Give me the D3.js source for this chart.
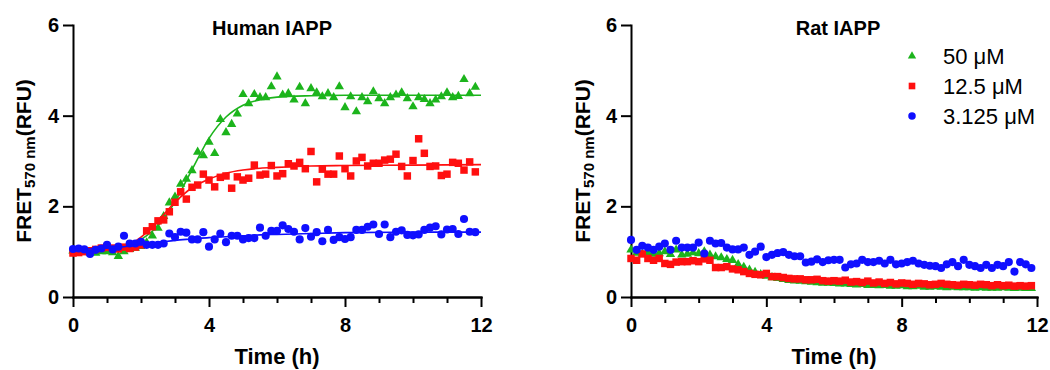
<!DOCTYPE html>
<html>
<head>
<meta charset="utf-8">
<script src="https://cdn.jsdelivr.net/npm/d3@7"></script>
<style>
  body { margin: 0; background: #fff; }
  svg { font-family: "Liberation Sans", Arial, sans-serif; }
  .axis path, .axis line { stroke: #000; stroke-width: 2; }
  .axis text { font-size: 20px; font-weight: bold; fill: #000; }
</style>
</head>
<body>
<div id="chart"></div>
<script>
// sampling times (minutes)
const timeMin = [0,10,20,30,40,50,60,70,80,90,100,110,120,130,140,150,160,170,180,190,200,210,220,230,
  240,250,260,270,280,290,300,310,320,330,340,350,360,370,380,390,400,410,420,430,440,450,460,470,
  480,490,500,510,520,530,540,550,560,570,580,590,600,610,620,630,640,650,660,670,680,690,700,710];

const concLabels = ["50 \u03BCM", "12.5 \u03BCM", "3.125 \u03BCM"];

// Human IAPP
const human50 = [1.02,1.00,1.00,0.98,0.97,1.00,1.00,0.98,0.90,1.00,
  1.05,1.08,1.12,1.20,1.35,1.52,1.78,2.08,2.21,2.49,
  2.60,2.79,3.20,3.12,3.42,3.17,3.92,3.63,3.81,4.04,
  4.47,4.27,4.47,4.40,4.40,4.64,4.86,4.46,4.49,4.35,
  4.63,4.27,4.60,4.51,4.42,4.49,4.40,4.64,4.18,4.42,
  4.09,4.40,4.31,4.53,4.38,4.27,4.40,4.46,4.51,4.38,
  4.20,4.40,4.36,4.27,4.35,4.42,4.51,4.40,4.43,4.80,
  4.49,4.63];
const human12 = [0.97,0.98,1.00,1.02,1.05,1.08,1.10,1.08,1.06,1.10,
  1.07,1.10,1.15,1.46,1.55,1.68,1.70,1.88,2.09,2.32,
  2.16,2.42,2.47,2.71,2.58,2.43,2.64,2.67,2.40,2.65,
  2.58,2.62,2.91,2.69,2.71,2.90,2.67,2.72,2.94,2.89,
  2.97,2.83,3.21,2.54,2.82,2.71,2.71,3.11,2.83,2.67,
  3.00,3.08,2.89,2.95,2.95,3.02,3.04,3.15,2.88,2.67,
  3.01,3.49,3.17,2.88,2.89,2.68,2.71,2.97,2.95,2.80,
  2.98,2.76];
const human3 = [1.06,1.07,1.05,0.95,1.04,1.07,1.15,1.05,1.11,1.35,
  1.18,1.18,1.22,1.15,1.15,1.15,1.18,1.40,1.32,1.44,
  1.42,1.27,1.27,1.43,1.11,1.27,1.40,1.21,1.35,1.35,
  1.27,1.30,1.30,1.53,1.35,1.46,1.46,1.58,1.50,1.44,
  1.27,1.52,1.33,1.43,1.23,1.48,1.26,1.32,1.28,1.32,
  1.48,1.48,1.55,1.60,1.39,1.60,1.32,1.44,1.47,1.37,
  1.36,1.38,1.48,1.53,1.56,1.38,1.49,1.50,1.39,1.72,
  1.44,1.43];

// fitted curves for Human IAPP (hours)
const fitTime = [0,1,1.5,2,2.5,3,3.5,4,4.5,5,5.5,6,7,8,10,12];
const fitHuman50 = [1.01,1.05,1.12,1.27,1.57,2.10,2.81,3.50,3.97,4.23,4.35,4.41,4.44,4.45,4.45,4.45];
const fitHuman12 = [0.99,1.03,1.10,1.32,1.68,2.09,2.41,2.60,2.73,2.80,2.84,2.86,2.89,2.90,2.91,2.92];
const fitHuman3 = [1.04,1.08,1.11,1.16,1.20,1.25,1.28,1.31,1.33,1.35,1.37,1.38,1.40,1.42,1.43,1.43];

// Rat IAPP
const rat50 = [1.04,0.97,0.95,0.97,0.95,0.96,1.00,0.94,1.04,0.93,
  0.95,0.98,0.96,1.00,0.93,0.89,0.87,0.83,0.81,0.72,
  0.66,0.60,0.55,0.50,0.46,0.43,0.41,0.39,0.37,0.36,
  0.35,0.34,0.33,0.32,0.31,0.31,0.30,0.29,0.29,0.28,
  0.27,0.28,0.26,0.26,0.25,0.26,0.24,0.24,0.25,0.23,
  0.23,0.24,0.22,0.22,0.23,0.22,0.21,0.22,0.21,0.21,
  0.21,0.20,0.21,0.20,0.20,0.20,0.21,0.20,0.19,0.20,
  0.19,0.19];
const rat12 = [0.85,0.81,0.95,0.85,0.81,0.85,0.74,0.72,0.77,0.78,
  0.78,0.80,0.78,0.84,0.81,0.65,0.65,0.67,0.62,0.60,
  0.56,0.52,0.50,0.49,0.52,0.45,0.45,0.43,0.41,0.40,
  0.40,0.38,0.38,0.39,0.36,0.35,0.36,0.35,0.37,0.33,
  0.34,0.32,0.35,0.31,0.33,0.30,0.32,0.29,0.31,0.30,
  0.28,0.30,0.29,0.27,0.28,0.30,0.28,0.27,0.26,0.28,
  0.27,0.26,0.28,0.27,0.25,0.27,0.25,0.26,0.24,0.25,
  0.24,0.25];
const rat3 = [1.26,1.04,1.13,1.09,1.04,1.11,1.18,1.04,1.24,1.09,
  1.09,1.09,1.20,0.96,1.24,1.18,1.19,1.09,1.05,1.05,
  1.09,0.93,1.00,1.11,0.88,0.93,0.97,0.99,0.93,0.90,
  0.90,0.76,0.78,0.83,0.77,0.81,0.82,0.82,0.65,0.72,
  0.74,0.82,0.77,0.77,0.80,0.74,0.82,0.72,0.74,0.77,
  0.80,0.74,0.71,0.69,0.68,0.64,0.72,0.77,0.68,0.82,
  0.71,0.68,0.64,0.71,0.64,0.71,0.68,0.77,0.56,0.77,
  0.72,0.64];

const xMajor = [0, 4, 8, 12];
const xMinor = [1, 2, 3, 5, 6, 7, 9, 10, 11];
const yTicks = [0, 2, 4, 6];

const colors = ["#1cb41c", "#ff0f0f", "#0f0fff"];
const symbols = [d3.symbolTriangle, d3.symbolSquare, d3.symbolCircle];
const symSize = [38, 56, 52];

let width = 1050, height = 370;
let plotTop = 25, plotBottom = 297;

let svg = d3.select("#chart").append("svg")
  .attr("width", width)
  .attr("height", height);

let panels = [
  { title: "Human IAPP", left: 73, right: 481, titleX: 272, labelX: 277, ylabX: 31,
    values: [human50, human12, human3], fits: [fitHuman50, fitHuman12, fitHuman3], legend: false },
  { title: "Rat IAPP", left: 631, right: 1037, titleX: 838, labelX: 834, ylabX: 590,
    values: [rat50, rat12, rat3], fits: null, legend: true }
];

panels.forEach(p => {
  let x = d3.scaleLinear().domain([0, 12]).range([p.left, p.right]);
  let y = d3.scaleLinear().domain([0, 6]).range([plotBottom, plotTop]);

  let g = svg.append("g");

  // axes
  g.append("g")
    .attr("class", "axis")
    .attr("transform", "translate(0," + plotBottom + ")")
    .call(d3.axisBottom(x).tickValues(xMinor).tickSize(6).tickSizeOuter(0).tickFormat(""));

  g.append("g")
    .attr("class", "axis")
    .attr("transform", "translate(0," + plotBottom + ")")
    .call(d3.axisBottom(x).tickValues(xMajor).tickSize(10).tickSizeOuter(0).tickPadding(11)
      .tickFormat(d3.format("d")));

  g.append("g")
    .attr("class", "axis")
    .attr("transform", "translate(" + p.left + ",0)")
    .call(d3.axisLeft(y).tickValues(yTicks).tickSize(10).tickSizeOuter(0).tickPadding(4)
      .tickFormat(d3.format("d")));

  g.selectAll(".axis .domain").attr("stroke-linecap", "square");

  // points, green first so blue ends on top
  p.values.forEach((vals, s) => {
    g.append("g")
      .selectAll("path")
      .data(vals)
      .enter().append("path")
      .attr("transform", (d, i) => "translate(" + x(timeMin[i] / 60) + "," + y(d) + ")")
      .attr("d", d3.symbol().type(symbols[s]).size(symSize[s]))
      .attr("fill", colors[s]);

    if (p.fits) {
      let line = d3.line()
        .x((d, i) => x(fitTime[i]))
        .y(d => y(d))
        .curve(d3.curveMonotoneX);
      g.append("path")
        .datum(p.fits[s])
        .attr("d", line)
        .attr("fill", "none")
        .attr("stroke", colors[s])
        .attr("stroke-width", 1.6);
    }
  });

  // title
  g.append("text")
    .attr("x", p.titleX)
    .attr("y", 35)
    .attr("text-anchor", "middle")
    .style("font-size", "20px")
    .style("font-weight", "bold")
    .text(p.title);

  // x label
  g.append("text")
    .attr("x", p.labelX)
    .attr("y", 364)
    .attr("text-anchor", "middle")
    .style("font-size", "22px")
    .style("font-weight", "bold")
    .text("Time (h)");

  // y label with subscript
  let yl = g.append("text")
    .attr("transform", "translate(" + p.ylabX + "," + ((plotTop + plotBottom) / 2) + ") rotate(-90)")
    .attr("text-anchor", "middle")
    .style("font-size", "21px")
    .style("font-weight", "bold");
  yl.append("tspan").text("FRET");
  yl.append("tspan").attr("dy", 4).style("font-size", "15px").text("570 nm");
  yl.append("tspan").attr("dy", -4).text("(RFU)");

  if (p.legend) {
    let leg = g.selectAll(".legend")
      .data(concLabels)
      .enter().append("g")
      .attr("class", "legend")
      .attr("transform", (d, i) => "translate(912," + (56 + i * 30) + ")");

    leg.append("path")
      .attr("d", (d, i) => d3.symbol().type(symbols[i]).size(i === 0 ? 30 : 44)())
      .attr("fill", (d, i) => colors[i]);

    leg.append("text")
      .attr("x", 31)
      .attr("y", 8)
      .style("font-size", "22px")
      .text(d => d);
  }
});
</script>
</body>
</html>
